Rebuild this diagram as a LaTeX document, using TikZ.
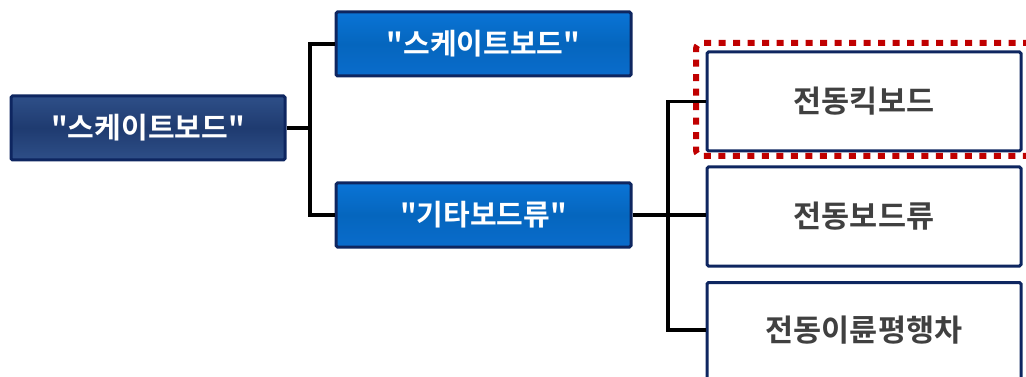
\documentclass[tikz,border=0pt]{standalone}
\usepackage{fontspec}
\setmainfont{Noto Sans CJK KR}[BoldFont={Noto Sans CJK KR Bold},Ligatures=TeXOff]
\begin{document}
\begin{tikzpicture}[x=1pt,y=-1pt,
  rootbox/.style={draw=navyB,line width=3pt,rounded corners=1.5pt,
    top color=rootT,bottom color=rootB,middle color=rootM,
    text=white,font=\bfseries\fontsize{29}{32}\selectfont,inner sep=0pt},
  bluebox/.style={draw=navyB,line width=3pt,rounded corners=1.5pt,
    top color=blueT,bottom color=blueB,middle color=blueM,
    text=white,font=\bfseries\fontsize{29}{32}\selectfont,inner sep=0pt},
  whitebox/.style={draw=navyB,line width=3pt,rounded corners=1.5pt,fill=white,
    text=txtgray,font=\bfseries\fontsize{30.5}{33}\selectfont,inner sep=0pt},
  conn/.style={line width=3.5pt,black}]
\definecolor{navyB}{HTML}{0E2660}
\definecolor{rootT}{HTML}{2E4F88}
\definecolor{rootM}{HTML}{1F3B70}
\definecolor{rootB}{HTML}{2E4F88}
\definecolor{blueT}{HTML}{0A74D6}
\definecolor{blueM}{HTML}{0566BE}
\definecolor{blueB}{HTML}{0A6CCC}
\definecolor{txtgray}{HTML}{404040}
\definecolor{dred}{HTML}{C00000}
\useasboundingbox (0,0) rectangle (1026,377);
\node[rootbox,minimum width=274pt,minimum height=64pt] (root) at (148,128) {"스케이트보드"};
\node[bluebox,minimum width=295pt,minimum height=64pt] (top) at (483.5,44) {"스케이트보드"};
\node[bluebox,minimum width=295pt,minimum height=64pt] (mid) at (483.5,215) {"기타보드류"};
\node[whitebox,minimum width=314pt,minimum height=99pt] (r1) at (864,101.5) {전동킥보드};
\node[whitebox,minimum width=314pt,minimum height=99pt] (r2) at (864,216.5) {전동보드류};
\node[whitebox,minimum width=314pt,minimum height=99pt,anchor=north] (r3) at (864,281) {};
\node[text=txtgray,font=\bfseries\fontsize{30.5}{33}\selectfont,inner sep=0pt] (r3t) at (864,330) {전동이륜평행차};
\coordinate (j1) at (310,128);
\coordinate (j2) at (668,215);
\draw[conn] (root.east) -- (j1);
\draw[conn] (top.west) -| (j1) |- (mid.west);
\draw[conn] (mid.east) -- (mid.east -| r2.west);
\draw[conn] (r1.west) -| (j2) |- (r3.west |- r3t);
\draw[dred,line width=6pt,dash pattern=on 7pt off 7.5pt,rounded corners=6pt]
  (1030,43) -- (696,43) -- (696,156) -- (1030,156);
\end{tikzpicture}
\end{document}
